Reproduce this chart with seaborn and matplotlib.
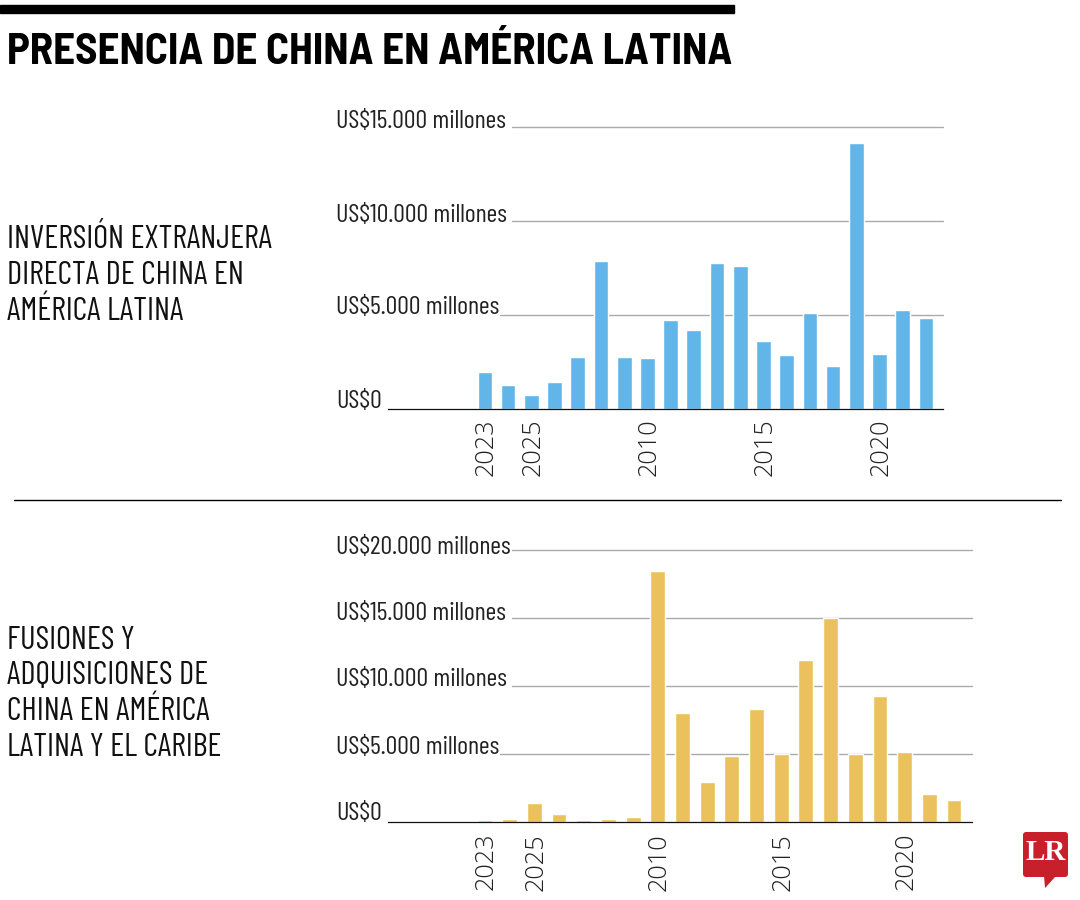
import seaborn as sns
import matplotlib
matplotlib.use('Agg')
import matplotlib.pyplot as plt
from matplotlib.patches import FancyBboxPatch, Polygon, Rectangle
from matplotlib.lines import Line2D

years = list(range(2003, 2023))
# asi vienen rotulados en el original
year_labels = ['2023', '', '2025', '', '', '', '', '2010', '', '', '', '', '2015', '', '', '', '', '2020', '', '']

ied = [1.95, 1.28, 0.73, 1.46, 2.75, 7.86, 2.77, 2.72, 4.72, 4.19,
       7.78, 7.62, 3.60, 2.88, 5.11, 2.29, 14.13, 2.93, 5.29, 4.86]
fusiones = [0.15, 0.25, 1.42, 0.61, 0.15, 0.25, 0.39, 18.46, 8.04, 2.92,
            4.88, 8.31, 5.00, 11.94, 15.00, 5.00, 9.29, 5.15, 2.06, 1.59]

ticks_ied = [0, 5, 10, 15]
ticks_fus = [0, 5, 10, 15, 20]
tick_text = {0: 'US$0', 5: 'US$5.000 millones', 10: 'US$10.000 millones',
             15: 'US$15.000 millones', 20: 'US$20.000 millones'}

W, H = 1080, 900
NARROW = ['Barlow Condensed', 'Liberation Sans Narrow', 'DejaVu Sans']
TITLE = ['Barlow Semi Condensed', 'Open Sans', 'DejaVu Sans']

sns.set_theme(style='white')
plt.rcParams['font.family'] = ['Noto Sans', 'DejaVu Sans']

fig = plt.figure(figsize=(W / 100, H / 100), dpi=100, facecolor='white')


def px_axes(x0, y0, x1, y1):
    return fig.add_axes([x0 / W, 1 - y1 / H, (x1 - x0) / W, (y1 - y0) / H])


def bar_panel(rect, values, ticks, color, xlim, width, label_y, text_gap):
    x0, y0, x1, y1 = rect
    ax = px_axes(x0, y0, x1, y1)
    sns.barplot(x=years, y=values, color=color, width=width, saturation=1, ax=ax, zorder=3)
    ax.set_xlim(*xlim)
    ax.set_ylim(0, ticks[-1])
    sns.despine(ax=ax, left=True, top=True, right=True)
    ax.spines['bottom'].set_color('#111111')
    ax.spines['bottom'].set_linewidth(0.9)
    ax.spines['bottom'].set_zorder(5)
    ax.set_yticks([])
    ax.set_xticks(range(len(years)))
    ax.set_xticklabels([])
    ax.tick_params(length=0)
    span = x1 - x0
    for t in ticks:
        y_px = y1 - (y1 - y0) * t / ticks[-1]
        fig.text(336 / W, 1 - (y_px - text_gap[t]) / H, tick_text[t], family=NARROW, fontsize=18.7,
                 color='#222222', ha='left', va='center')
        if t == 0:
            continue
        start = 500 if t == 5 else 512
        ax.plot([(start - x0) / span, 1], [t, t], transform=ax.get_yaxis_transform(),
                color='#aaaaaa', lw=1, zorder=1, clip_on=False)
    for i, lab in enumerate(year_labels):
        if lab:
            ax.annotate(lab, xy=(i, 0), xycoords=ax.get_xaxis_transform(),
                        xytext=(1.5, -label_y), textcoords='offset pixels',
                        rotation=90, ha='center', va='top', fontsize=18.2,
                        color='#222222', family=['Open Sans', 'DejaVu Sans'], fontweight='light')
    return ax


bar_panel((388, 127, 943, 409), ied, ticks_ied, '#62b5e8', (-4.18, 19.74), 0.63, 9,
          {0: 7, 5: 8, 10: 6, 15: 5})
bar_panel((388, 550, 972, 822), fusiones, ticks_fus, '#eac15c', (-3.93, 19.73), 0.6, 11,
          {0: 8, 5: 7, 10: 7, 15: 5, 20: 2})

# titulares y textos laterales
fig.patches.append(Rectangle((0, 1 - 13 / H), 734 / W, 8 / H, transform=fig.transFigure, color='black'))
fig.text(7 / W, 1 - 52 / H, 'PRESENCIA DE CHINA EN AMÉRICA LATINA', fontsize=31, fontweight='bold',
         family=TITLE, color='black', ha='left', va='center')
fig.add_artist(Line2D([14 / W, 1061 / W], [1 - 500 / H, 1 - 500 / H], color='black', lw=1))

for i, line in enumerate(['INVERSIÓN EXTRANJERA', 'DIRECTA DE CHINA EN', 'AMÉRICA LATINA']):
    fig.text(7 / W, 1 - (240 + 36 * i) / H, line, family=NARROW, fontsize=23.4,
             color='#111111', ha='left', va='center')
for i, line in enumerate(['FUSIONES Y', 'ADQUISICIONES DE', 'CHINA EN AMÉRICA', 'LATINA Y EL CARIBE']):
    fig.text(7 / W, 1 - (641 + 35.5 * i) / H, line, family=NARROW, fontsize=23.4,
             color='#111111', ha='left', va='center')

# logo LR
logo = px_axes(1020, 828, 1072, 892)
logo.set_xlim(1020, 1072)
logo.set_ylim(892, 828)
logo.axis('off')
logo.add_patch(FancyBboxPatch((1025, 834), 41, 41, boxstyle='round,pad=2,rounding_size=3',
                              fc='#c8202a', ec='none'))
logo.add_patch(Polygon([(1044, 876), (1056, 876), (1045, 888)], fc='#c8202a', ec='none'))
logo.text(1045.5, 853, 'LR', family=['Liberation Serif', 'DejaVu Serif'], fontweight='bold',
          fontsize=21, color='white', ha='center', va='center')

fig.savefig('out.png', dpi=100)
